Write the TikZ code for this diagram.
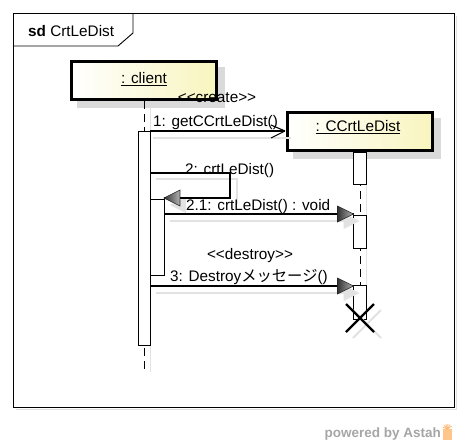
\documentclass[tikz,border=0pt]{standalone}
\usepackage{fontspec}
\setmainfont{Liberation Sans}[Ligatures=TeXOff]
\newfontfamily\jpfont{Noto Sans CJK JP}
\definecolor{objY}{RGB}{248,245,190}
\definecolor{shd}{RGB}{218,218,218}
\definecolor{lshd}{RGB}{226,226,226}
\newcommand\tipR[1]{%
  \path[left color=black!80, right color=black!30, draw=black!85, line width=0.6pt] (#1) -- ++(-16,-8) -- ++(0,16) -- cycle;}
\newcommand\tipL[1]{%
  \path[left color=black!80, right color=black!30, draw=black!85, line width=0.6pt] (#1) -- ++(16,-8) -- ++(0,16) -- cycle;}
\newcommand\tipShadow[2]{%
  \fill[lshd] ([shift={(6,7)}]#1) -- ++(#2*16,-8) -- ++(0,16) -- cycle;}
\begin{document}
\begin{tikzpicture}[x=1pt,y=-1pt,
  font=\fontsize{15.3}{18}\selectfont,
  objbox/.style={draw=black, line width=3pt, left color=white, right color=objY, shading angle=90, minimum width=145pt, minimum height=38pt, inner sep=0pt},
  actbar/.style={draw=black, line width=0.8pt, fill=white, inner sep=0pt},
  msg/.style={draw=black, line width=1.1pt},
  msgshadow/.style={draw=lshd, line width=1.3pt},
  lifeline/.style={draw=black, line width=1pt, dash pattern=on 8pt off 5pt},
  lbl/.style={anchor=base west, inner sep=0pt},
  clbl/.style={anchor=base, inner sep=0pt}]
\useasboundingbox (0,0) rectangle (466,445);
\fill[white] (0,0) rectangle (466,445);

% frame
\draw[black!12, line width=1pt] (16,409) -- (456,409) -- (456,16);
\draw[black, line width=0.9pt] (13,13) rectangle (454,407);
\draw[black, line width=0.9pt] (13,46) -- (118,46) -- (133,33) -- (133,13);
\node[lbl] (title) at (28,36.5) {\textbf{sd} CrtLeDist};

% object box shadows
\fill[shd] (77,67) rectangle (225,108);
\fill[shd] (293,118) rectangle (441,159);

% lifeline shadows
\draw[lshd, line width=1pt] (150,108) -- (150,372);
\draw[lshd, line width=1pt] (366,159) -- (366,320);

% objects and lifelines
\node[objbox] (client) at (144,80.5) {};
\node[objbox] (cc) at (360,131.5) {};
\coordinate (clend) at (144,370);
\coordinate (ccend) at (360,300);
\draw[lifeline] (client.south) -- (clend);
\draw[lifeline] (cc.south) -- (ccend);
\node[actbar, minimum width=12pt, minimum height=214pt] (a1) at (144,238) {};
\node[actbar, minimum width=14pt, minimum height=76pt] (a2) at (157,237) {};
\node[actbar, minimum width=13pt, minimum height=32pt] (c1) at (360,168) {};
\node[actbar, minimum width=13pt, minimum height=33pt] (c2) at (360,231.5) {};
\node[actbar, minimum width=13pt, minimum height=34pt] (c3) at (360,302) {};

% object labels
\node[clbl] (clienttxt) at (144,83.3) {\underline{: client}};
\node[clbl] (cctxt) at (358,131.7) {\underline{: CCrtLeDist}};

% coordinates
\coordinate (m1s) at (150,131);
\coordinate (m1e) at (285,131);
\coordinate (m2s) at (150,173);
\coordinate (m2a) at (230,173);
\coordinate (m2b) at (230,198);
\coordinate (m2e) at (164,198);
\coordinate (m21s) at (164,214);
\coordinate (m21e) at (353.5,214);
\coordinate (m3s) at (150,286);
\coordinate (m3e) at (353.5,286);

% message shadows
\draw[msgshadow] (153,138) -- (291,138);
\draw[msgshadow] (156,179) -- (237,179) -- (237,204);
\draw[msgshadow] (170,221) -- (350,221);
\draw[msgshadow] (156,293) -- (350,293);
\tipShadow{m21e}{-1}
\tipShadow{m3e}{-1}
\tipShadow{m2e}{1}

% message 1 (create)
\draw[msg] (m1s) -- (m1e);
\draw[msg] (m1e) -- ++(-14,-6) (m1e) -- ++(-14,7);
\node[clbl] (l1a) at (217,102) {<<create>>};
\node[lbl] (l1) at (153,126) {1: getCCrtLeDist()};

% message 2 (self)
\draw[msg] (m2s) -- (m2a) -- (m2b) -- (m2e);
\tipL{m2e}
\node[lbl] (l2) at (185,174) {2: crtLeDist()};

% message 2.1
\draw[msg] (m21s) -- (m21e);
\tipR{m21e}
\node[lbl] (l21) at (186,210) {2.1: crtLeDist() : void};

% message 3
\draw[msg] (m3s) -- (m3e);
\tipR{m3e}
\node[clbl] (l3a) at (250,259) {<<destroy>>};
\node[lbl] (l3) at (170,281) {3: Destroy{\jpfont メッセージ}()};

% destruction X
\coordinate (xc) at (360,318);
\draw[lshd, line width=2pt] ([shift={(7,6)}]xc) ++(-14,-14) -- ++(28,28);
\draw[lshd, line width=2pt] ([shift={(7,6)}]xc) ++(14,-14) -- ++(-28,28);
\draw[black, line width=2.2pt] (xc) ++(-14,-14) -- ++(28,28);
\draw[black, line width=2.2pt] (xc) ++(14,-14) -- ++(-28,28);

% powered by Astah
\node[anchor=base east, inner sep=0pt, text=black!35, font=\fontsize{13.5}{16}\selectfont\bfseries] (pw) at (441,437) {powered by Astah};
\fill[orange!45] (443,429) rectangle (452,440);
\foreach \a in {200,225,...,340} \draw[orange!55, line width=0.8pt] (447.5,429) -- ++(\a:5);
\end{tikzpicture}
\end{document}
